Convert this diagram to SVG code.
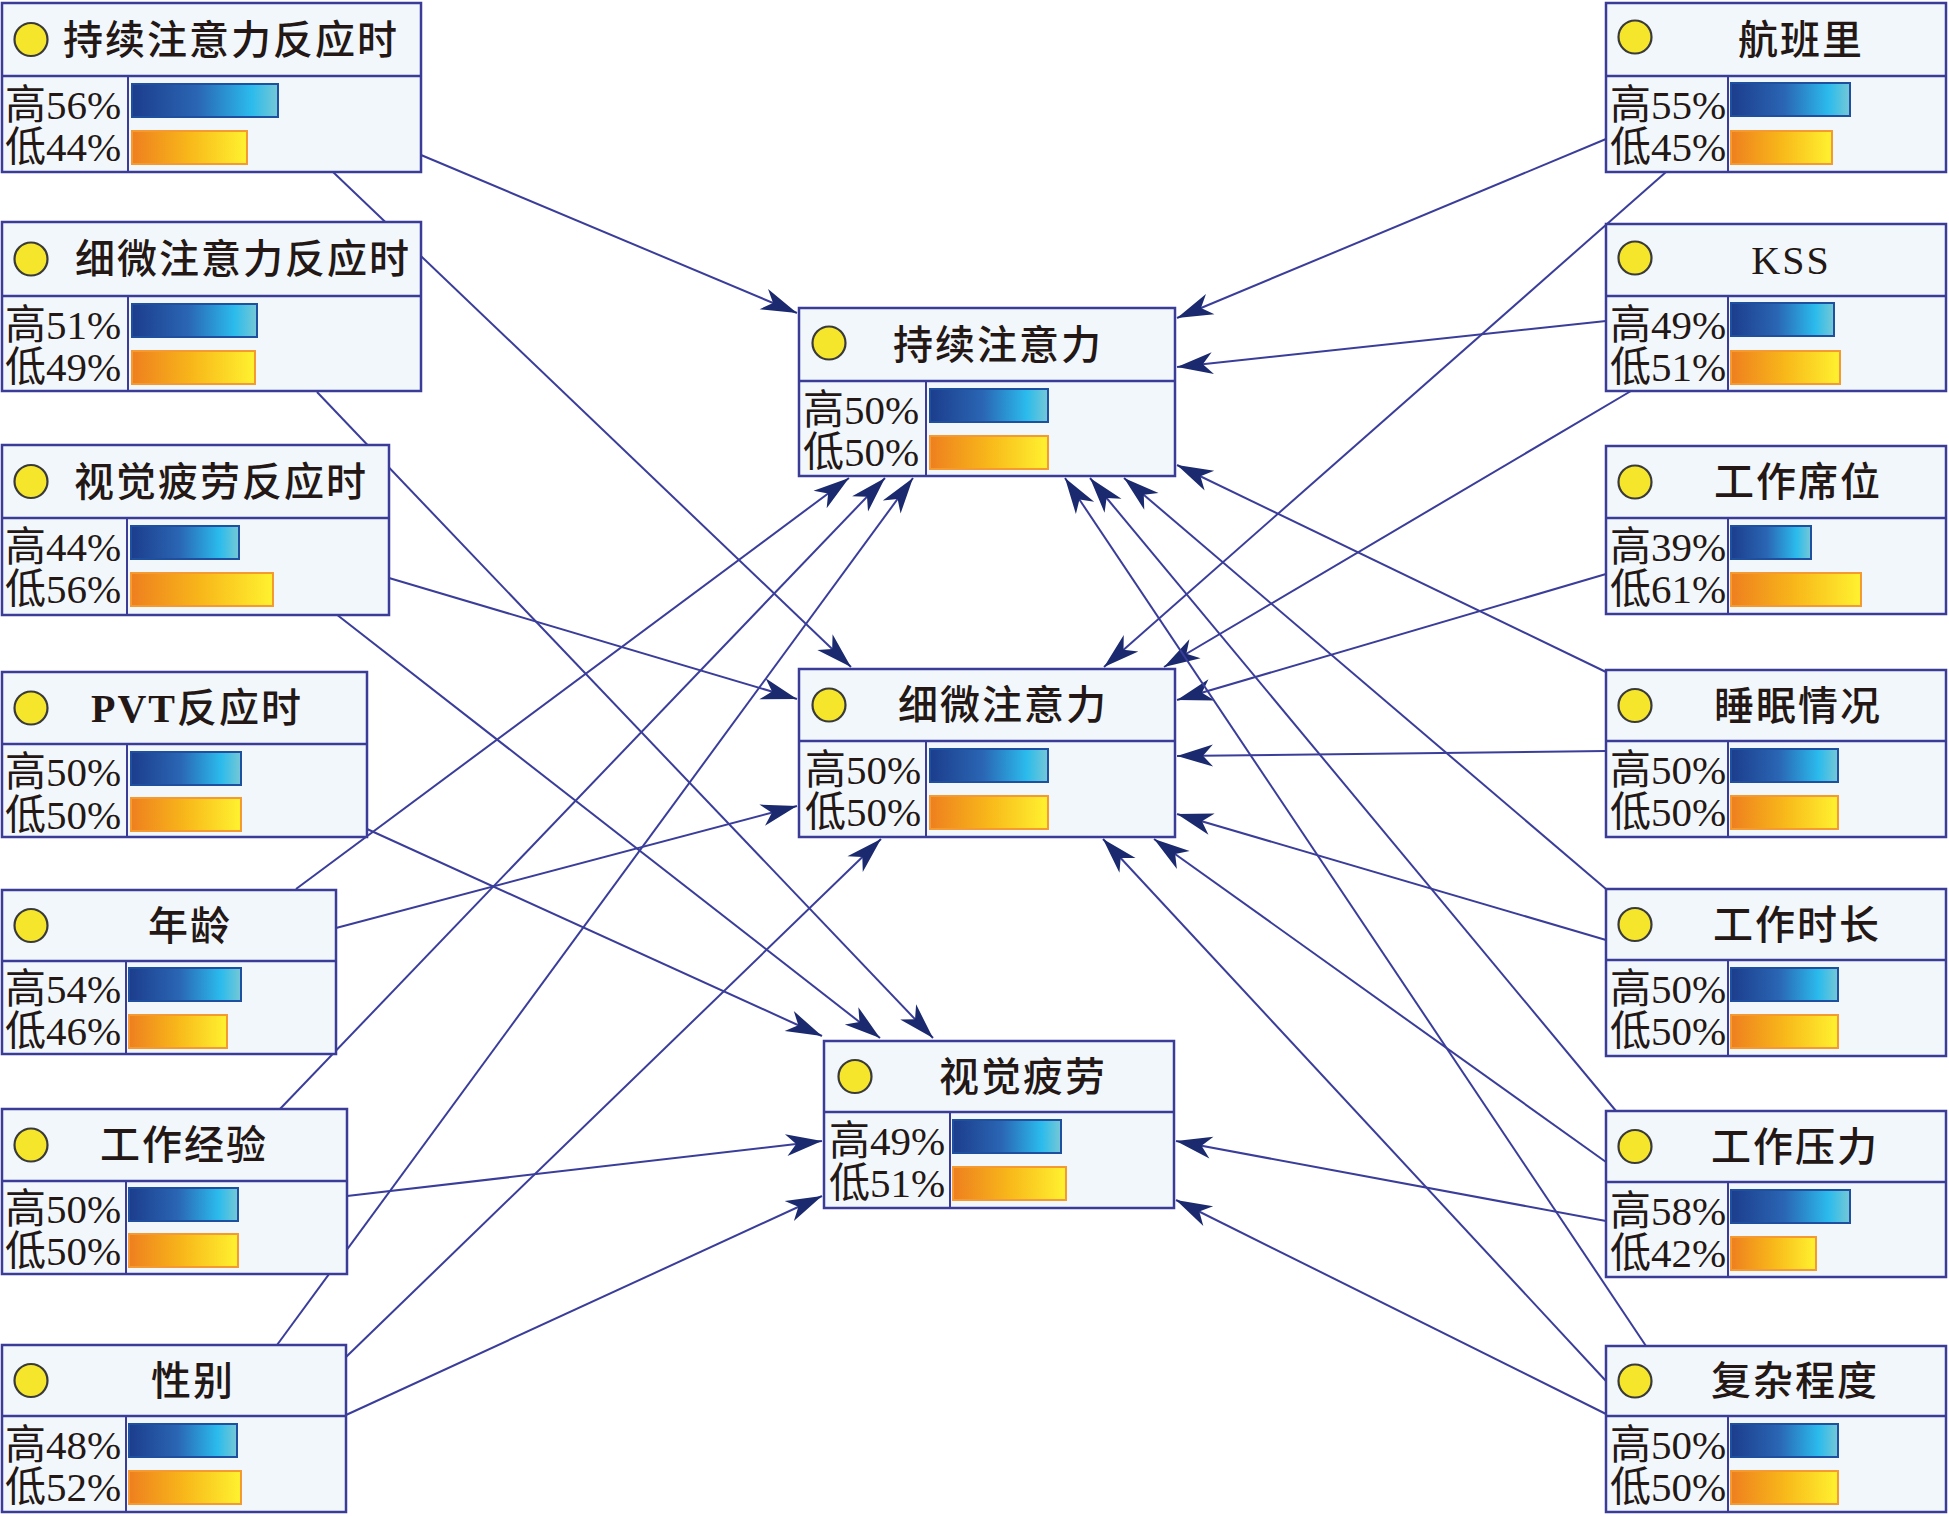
<svg xmlns="http://www.w3.org/2000/svg" width="1949" height="1517" viewBox="0 0 1949 1517">
<defs>
<linearGradient id="gb" x1="0" y1="0" x2="1" y2="0">
<stop offset="0" stop-color="#1c3d8c"/><stop offset="0.45" stop-color="#2a66b4"/><stop offset="0.82" stop-color="#2bbbec"/><stop offset="1" stop-color="#76c8d6"/>
</linearGradient>
<linearGradient id="go" x1="0" y1="0" x2="1" y2="0">
<stop offset="0" stop-color="#ee7f1f"/><stop offset="0.5" stop-color="#f8b81a"/><stop offset="1" stop-color="#fff230"/>
</linearGradient>
<marker id="ah" markerUnits="userSpaceOnUse" markerWidth="44" markerHeight="28" viewBox="-40 -14 44 28" refX="0" refY="0" orient="auto">
<path d="M0,0 L-36,-11 L-26,0 L-36,11 Z" fill="#1b2a6e"/>
</marker>
</defs>
<style>
.box{fill:#f2f7fc;stroke:#3b3c98;stroke-width:2.5}
.sep{stroke:#3b3c98;stroke-width:2.5}
.col{stroke:#3b3c98;stroke-width:2}
.dot{fill:#f5e62c;stroke:#3a3a3a;stroke-width:2.2}
.bb{fill:url(#gb);stroke:#1f4f9f;stroke-width:2}
.ob{fill:url(#go);stroke:#f59a30;stroke-width:2}
.t{font-family:'Liberation Serif','Noto Sans CJK SC',serif;font-size:40px;font-weight:500;fill:#231815;text-anchor:middle;letter-spacing:2px}
.l{font-family:'Liberation Serif','Noto Sans CJK SC',serif;font-size:41px;fill:#231815}
.e{stroke:#3a3d9a;stroke-width:2;fill:none;marker-end:url(#ah)}
</style>
<rect width="1949" height="1517" fill="#ffffff"/>

<g id="connectors">
<line class="e" x1="421" y1="155" x2="797" y2="313"/>
<line class="e" x1="333" y1="172" x2="851" y2="667"/>
<line class="e" x1="317" y1="392" x2="933" y2="1038"/>
<line class="e" x1="389" y1="578" x2="797" y2="699"/>
<line class="e" x1="336" y1="614" x2="880" y2="1038"/>
<line class="e" x1="367" y1="829" x2="822" y2="1036"/>
<line class="e" x1="296" y1="889" x2="849" y2="478"/>
<line class="e" x1="336" y1="928" x2="797" y2="806"/>
<line class="e" x1="280" y1="1109" x2="885" y2="478"/>
<line class="e" x1="347" y1="1196" x2="822" y2="1141"/>
<line class="e" x1="277" y1="1345" x2="913" y2="478"/>
<line class="e" x1="346" y1="1357" x2="881" y2="839"/>
<line class="e" x1="346" y1="1415" x2="822" y2="1196"/>
<line class="e" x1="1606" y1="139" x2="1177" y2="318"/>
<line class="e" x1="1666" y1="172" x2="1104" y2="667"/>
<line class="e" x1="1606" y1="321" x2="1177" y2="367"/>
<line class="e" x1="1631" y1="391" x2="1164" y2="667"/>
<line class="e" x1="1606" y1="574" x2="1177" y2="700"/>
<line class="e" x1="1606" y1="672" x2="1177" y2="465"/>
<line class="e" x1="1606" y1="751" x2="1177" y2="756"/>
<line class="e" x1="1606" y1="889" x2="1124" y2="478"/>
<line class="e" x1="1606" y1="940" x2="1177" y2="814"/>
<line class="e" x1="1616" y1="1111" x2="1090" y2="478"/>
<line class="e" x1="1606" y1="1162" x2="1154" y2="839"/>
<line class="e" x1="1606" y1="1221" x2="1176" y2="1141"/>
<line class="e" x1="1646" y1="1346" x2="1065" y2="478"/>
<line class="e" x1="1606" y1="1381" x2="1103" y2="839"/>
<line class="e" x1="1606" y1="1414" x2="1176" y2="1200"/>
</g>

<g id="n-chixu-rt">
<rect class="box" x="2" y="3" width="419" height="169"/>
<line class="sep" x1="2" y1="76" x2="421" y2="76"/><line class="col" x1="128" y1="76" x2="128" y2="172"/>
<circle class="dot" cx="31" cy="39.5" r="16.5"/>
<text class="t" x="231" y="54">持续注意力反应时</text>
<rect class="bb" x="132" y="84" width="146" height="33"/><rect class="ob" x="132" y="131" width="115" height="33"/>
<text class="l" x="5" y="119">高56%</text><text class="l" x="5" y="161">低44%</text>
</g>

<g id="n-ximei-rt">
<rect class="box" x="2" y="222" width="419" height="169"/>
<line class="sep" x1="2" y1="296" x2="421" y2="296"/><line class="col" x1="128" y1="296" x2="128" y2="391"/>
<circle class="dot" cx="31" cy="259" r="16.5"/>
<text class="t" x="243" y="273">细微注意力反应时</text>
<rect class="bb" x="132" y="304" width="125" height="33"/><rect class="ob" x="132" y="351" width="123" height="33"/>
<text class="l" x="5" y="339">高51%</text><text class="l" x="5" y="381">低49%</text>
</g>

<g id="n-shijue-rt">
<rect class="box" x="2" y="445" width="387" height="170"/>
<line class="sep" x1="2" y1="518" x2="389" y2="518"/><line class="col" x1="127" y1="518" x2="127" y2="615"/>
<circle class="dot" cx="31" cy="481.5" r="16.5"/>
<text class="t" x="221" y="495.5">视觉疲劳反应时</text>
<rect class="bb" x="131" y="526" width="108" height="33"/><rect class="ob" x="131" y="573" width="142" height="33"/>
<text class="l" x="5" y="561">高44%</text><text class="l" x="5" y="603">低56%</text>
</g>

<g id="n-pvt">
<rect class="box" x="2" y="672" width="365" height="165"/>
<line class="sep" x1="2" y1="744" x2="367" y2="744"/><line class="col" x1="127" y1="744" x2="127" y2="837"/>
<circle class="dot" cx="31" cy="708" r="16.5"/>
<text class="t" x="197" y="722"><tspan font-weight="bold">PVT</tspan>反应时</text>
<rect class="bb" x="131" y="752" width="110" height="33"/><rect class="ob" x="131" y="798" width="110" height="33"/>
<text class="l" x="5" y="786">高50%</text><text class="l" x="5" y="829">低50%</text>
</g>

<g id="n-nianling">
<rect class="box" x="2" y="890" width="334" height="164"/>
<line class="sep" x1="2" y1="961" x2="336" y2="961"/><line class="col" x1="126" y1="961" x2="126" y2="1054"/>
<circle class="dot" cx="31" cy="925.5" r="16.5"/>
<text class="t" x="190" y="939.5">年龄</text>
<rect class="bb" x="129" y="968" width="112" height="33"/><rect class="ob" x="129" y="1015" width="98" height="33"/>
<text class="l" x="5" y="1003">高54%</text><text class="l" x="5" y="1045">低46%</text>
</g>

<g id="n-jingyan">
<rect class="box" x="2" y="1109" width="345" height="165"/>
<line class="sep" x1="2" y1="1181" x2="347" y2="1181"/><line class="col" x1="126" y1="1181" x2="126" y2="1274"/>
<circle class="dot" cx="31" cy="1145" r="16.5"/>
<text class="t" x="184" y="1159">工作经验</text>
<rect class="bb" x="129" y="1188" width="109" height="33"/><rect class="ob" x="129" y="1234" width="109" height="33"/>
<text class="l" x="5" y="1223">高50%</text><text class="l" x="5" y="1265">低50%</text>
</g>

<g id="n-xingbie">
<rect class="box" x="2" y="1345" width="344" height="167"/>
<line class="sep" x1="2" y1="1416" x2="346" y2="1416"/><line class="col" x1="126" y1="1416" x2="126" y2="1512"/>
<circle class="dot" cx="31" cy="1380.5" r="16.5"/>
<text class="t" x="193" y="1394.5">性别</text>
<rect class="bb" x="129" y="1424" width="108" height="33"/><rect class="ob" x="129" y="1471" width="112" height="33"/>
<text class="l" x="5" y="1459">高48%</text><text class="l" x="5" y="1501">低52%</text>
</g>

<g id="n-hangbanli">
<rect class="box" x="1606" y="3" width="340" height="169"/>
<line class="sep" x1="1606" y1="76" x2="1946" y2="76"/><line class="col" x1="1728" y1="76" x2="1728" y2="172"/>
<circle class="dot" cx="1635" cy="37" r="16.5"/>
<text class="t" x="1801" y="53.5">航班里</text>
<rect class="bb" x="1731" y="83" width="119" height="33"/><rect class="ob" x="1731" y="131" width="101" height="33"/>
<text class="l" x="1610" y="119">高55%</text><text class="l" x="1610" y="161">低45%</text>
</g>

<g id="n-kss">
<rect class="box" x="1606" y="224" width="340" height="167"/>
<line class="sep" x1="1606" y1="296" x2="1946" y2="296"/><line class="col" x1="1728" y1="296" x2="1728" y2="391"/>
<circle class="dot" cx="1635" cy="258" r="16.5"/>
<text class="t" x="1791" y="274">KSS</text>
<rect class="bb" x="1731" y="303" width="103" height="33"/><rect class="ob" x="1731" y="351" width="109" height="33"/>
<text class="l" x="1610" y="339">高49%</text><text class="l" x="1610" y="381">低51%</text>
</g>

<g id="n-xiwei">
<rect class="box" x="1606" y="446" width="340" height="168"/>
<line class="sep" x1="1606" y1="518" x2="1946" y2="518"/><line class="col" x1="1728" y1="518" x2="1728" y2="614"/>
<circle class="dot" cx="1635" cy="482" r="16.5"/>
<text class="t" x="1798" y="496">工作席位</text>
<rect class="bb" x="1731" y="526" width="80" height="33"/><rect class="ob" x="1731" y="573" width="130" height="33"/>
<text class="l" x="1610" y="561">高39%</text><text class="l" x="1610" y="603">低61%</text>
</g>

<g id="n-shuimian">
<rect class="box" x="1606" y="670" width="340" height="167"/>
<line class="sep" x1="1606" y1="741" x2="1946" y2="741"/><line class="col" x1="1728" y1="741" x2="1728" y2="837"/>
<circle class="dot" cx="1635" cy="705.5" r="16.5"/>
<text class="t" x="1798" y="719.5">睡眠情况</text>
<rect class="bb" x="1731" y="749" width="107" height="33"/><rect class="ob" x="1731" y="796" width="107" height="33"/>
<text class="l" x="1610" y="784">高50%</text><text class="l" x="1610" y="826">低50%</text>
</g>

<g id="n-shichang">
<rect class="box" x="1606" y="889" width="340" height="167"/>
<line class="sep" x1="1606" y1="960" x2="1946" y2="960"/><line class="col" x1="1728" y1="960" x2="1728" y2="1056"/>
<circle class="dot" cx="1635" cy="924.5" r="16.5"/>
<text class="t" x="1797" y="938.5">工作时长</text>
<rect class="bb" x="1731" y="968" width="107" height="33"/><rect class="ob" x="1731" y="1015" width="107" height="33"/>
<text class="l" x="1610" y="1003">高50%</text><text class="l" x="1610" y="1045">低50%</text>
</g>

<g id="n-yali">
<rect class="box" x="1606" y="1111" width="340" height="166"/>
<line class="sep" x1="1606" y1="1182" x2="1946" y2="1182"/><line class="col" x1="1728" y1="1182" x2="1728" y2="1277"/>
<circle class="dot" cx="1635" cy="1146.5" r="16.5"/>
<text class="t" x="1795" y="1160.5">工作压力</text>
<rect class="bb" x="1731" y="1190" width="119" height="33"/><rect class="ob" x="1731" y="1237" width="85" height="33"/>
<text class="l" x="1610" y="1225">高58%</text><text class="l" x="1610" y="1267">低42%</text>
</g>

<g id="n-fuza">
<rect class="box" x="1606" y="1346" width="340" height="166"/>
<line class="sep" x1="1606" y1="1416" x2="1946" y2="1416"/><line class="col" x1="1728" y1="1416" x2="1728" y2="1512"/>
<circle class="dot" cx="1635" cy="1381" r="16.5"/>
<text class="t" x="1795" y="1395">复杂程度</text>
<rect class="bb" x="1731" y="1424" width="107" height="33"/><rect class="ob" x="1731" y="1471" width="107" height="33"/>
<text class="l" x="1610" y="1459">高50%</text><text class="l" x="1610" y="1501">低50%</text>
</g>

<g id="n-chixu">
<rect class="box" x="799" y="308" width="376" height="168"/>
<line class="sep" x1="799" y1="381" x2="1175" y2="381"/><line class="col" x1="926" y1="381" x2="926" y2="476"/>
<circle class="dot" cx="829" cy="343" r="16.5"/>
<text class="t" x="998" y="358.5">持续注意力</text>
<rect class="bb" x="930" y="389" width="118" height="33"/><rect class="ob" x="930" y="436" width="118" height="33"/>
<text class="l" x="803" y="424">高50%</text><text class="l" x="803" y="466">低50%</text>
</g>

<g id="n-ximei">
<rect class="box" x="799" y="669" width="376" height="168"/>
<line class="sep" x1="799" y1="741" x2="1175" y2="741"/><line class="col" x1="926" y1="741" x2="926" y2="837"/>
<circle class="dot" cx="829" cy="705" r="16.5"/>
<text class="t" x="1003" y="719">细微注意力</text>
<rect class="bb" x="930" y="749" width="118" height="33"/><rect class="ob" x="930" y="796" width="118" height="33"/>
<text class="l" x="805" y="784">高50%</text><text class="l" x="805" y="826">低50%</text>
</g>

<g id="n-shijue">
<rect class="box" x="824" y="1041" width="350" height="167"/>
<line class="sep" x1="824" y1="1112" x2="1174" y2="1112"/><line class="col" x1="950" y1="1112" x2="950" y2="1208"/>
<circle class="dot" cx="855" cy="1076.5" r="16.5"/>
<text class="t" x="1023" y="1090.5">视觉疲劳</text>
<rect class="bb" x="953" y="1120" width="108" height="33"/><rect class="ob" x="953" y="1167" width="113" height="33"/>
<text class="l" x="829" y="1155">高49%</text><text class="l" x="829" y="1197">低51%</text>
</g>
</svg>
